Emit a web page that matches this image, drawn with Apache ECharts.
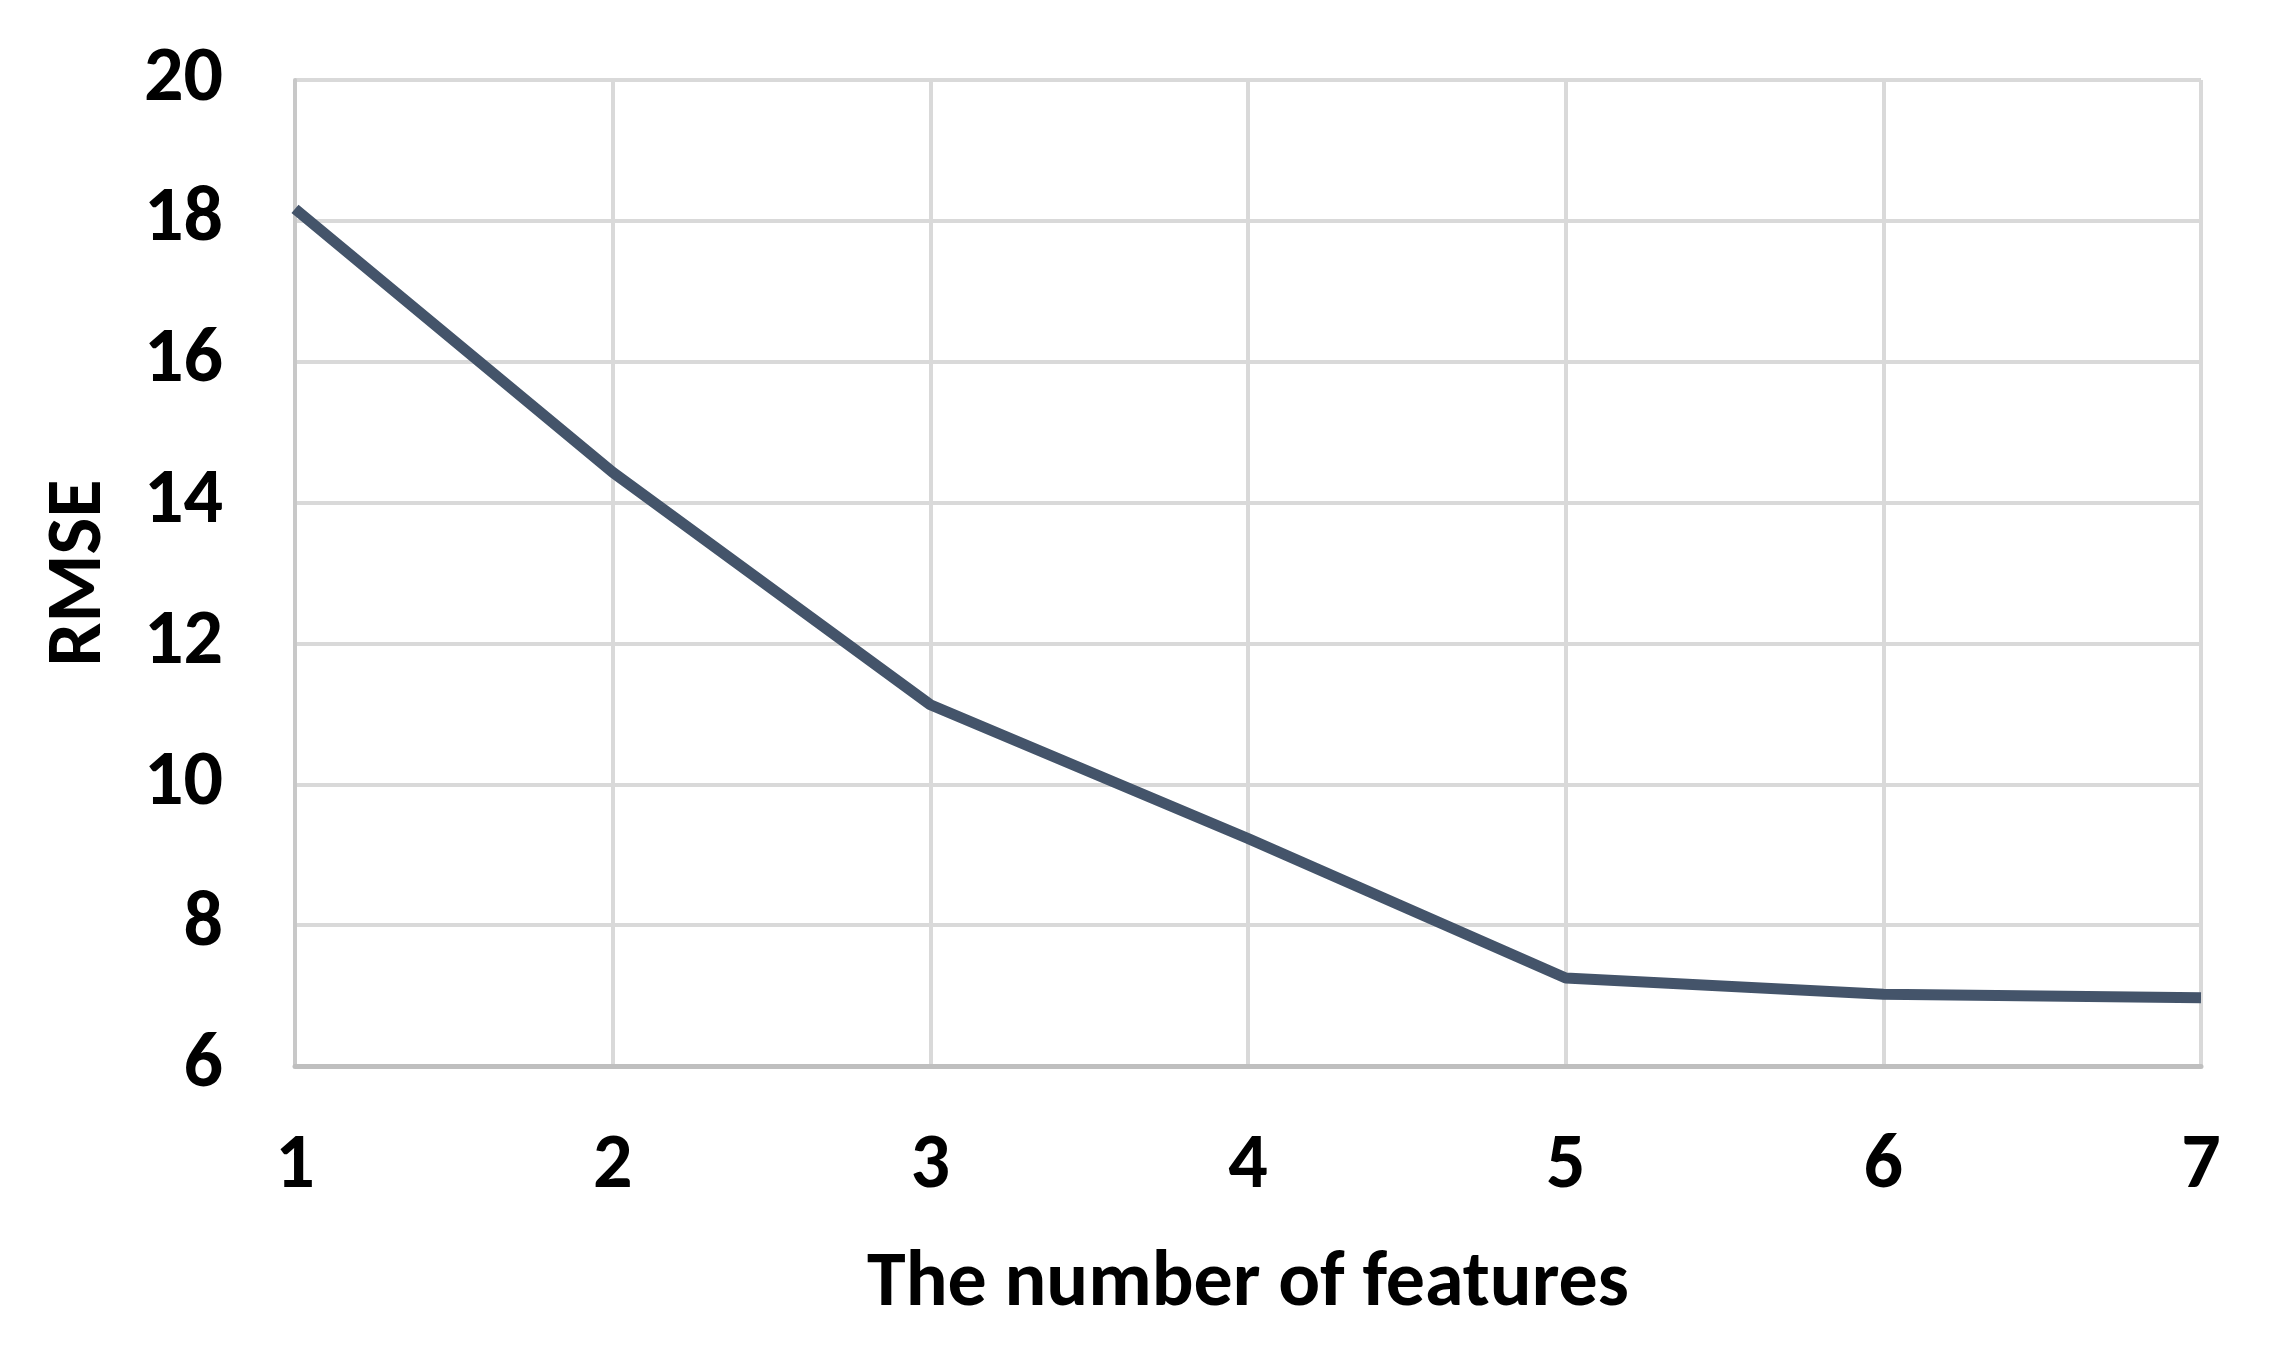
<!DOCTYPE html>
<html>
<head>
<meta charset="utf-8">
<script src="https://cdn.jsdelivr.net/npm/echarts@6/dist/echarts.min.js"></script>
<style>
  html, body { margin: 0; padding: 0; background: #fff; }
  #chart { width: 2292px; height: 1368px; }
</style>
</head>
<body>
<div id="chart"></div>
<script>
// number of features on the x axis
const featureCounts = ['1', '2', '3', '4', '5', '6', '7']
// RMSE
const rmseValues = [18.17, 14.43, 11.13, 9.23, 7.25, 7.02, 6.97]

const fontFamily = 'Carlito, "Liberation Sans Narrow", "DejaVu Sans Condensed", "Noto Sans", sans-serif'

const chart = echarts.init(document.getElementById('chart'))

chart.setOption({
  backgroundColor: '#fff',
  animation: false,
  grid: {
    left: 295,
    right: 91,
    top: 80,
    bottom: 302
  },
  xAxis: {
    type: 'category',
    data: featureCounts,
    boundaryGap: false,
    name: 'The number of features',
    nameLocation: 'middle',
    nameGap: 180,
    nameTextStyle: {
      color: '#000',
      fontSize: 78,
      fontWeight: 'bold',
      fontFamily: fontFamily
    },
    axisLine: {
      lineStyle: { color: '#bfbfbf', width: 5 }
    },
    axisTick: { show: false },
    axisLabel: {
      color: '#000',
      fontSize: 78,
      fontWeight: 'bold',
      fontFamily: fontFamily,
      margin: 62
    },
    splitLine: {
      show: true,
      lineStyle: { color: '#d9d9d9', width: 4 }
    }
  },
  yAxis: {
    type: 'value',
    min: 6,
    max: 20,
    interval: 2,
    name: 'RMSE',
    nameLocation: 'middle',
    nameGap: 176,
    nameRotate: 90,
    nameTextStyle: {
      color: '#000',
      fontSize: 78,
      fontWeight: 'bold',
      fontFamily: fontFamily
    },
    axisLine: {
      show: true,
      lineStyle: { color: '#c8c8c8', width: 4 }
    },
    axisTick: { show: false },
    axisLabel: {
      color: '#000',
      fontSize: 78,
      fontWeight: 'bold',
      fontFamily: fontFamily,
      margin: 72
    },
    splitLine: {
      show: true,
      lineStyle: { color: '#d9d9d9', width: 4 }
    }
  },
  series: [
    {
      type: 'line',
      data: rmseValues,
      symbol: 'none',
      lineStyle: { color: '#44546a', width: 11 }
    }
  ]
})
</script>
</body>
</html>
